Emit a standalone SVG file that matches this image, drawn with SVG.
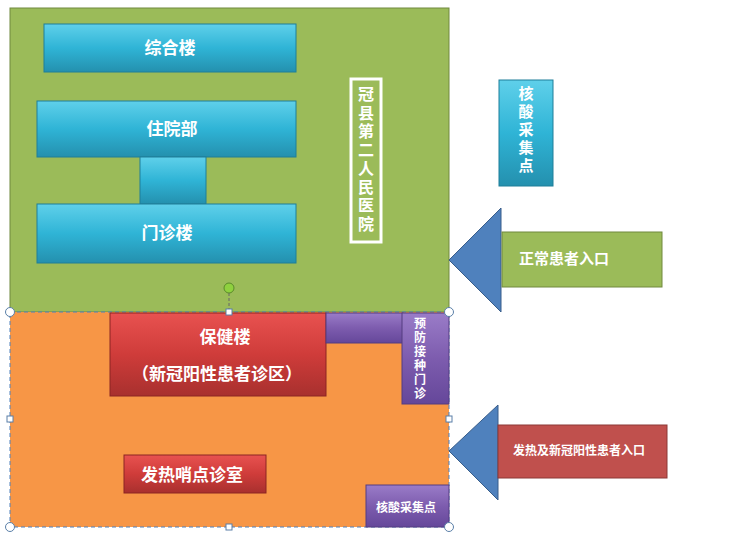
<svg xmlns="http://www.w3.org/2000/svg" width="748" height="539" viewBox="0 0 748 539">
<defs>
<linearGradient id="gb" x1="0" y1="0" x2="0" y2="1"><stop offset="0" stop-color="#5fd0ea"/><stop offset="0.5" stop-color="#2fb4d6"/><stop offset="1" stop-color="#2490ae"/></linearGradient>
<linearGradient id="gr" x1="0" y1="0" x2="0" y2="1"><stop offset="0" stop-color="#e85250"/><stop offset="0.5" stop-color="#cf3c3a"/><stop offset="1" stop-color="#a8302e"/></linearGradient>
<linearGradient id="gp" x1="0" y1="0" x2="0" y2="1"><stop offset="0" stop-color="#9a7cc8"/><stop offset="0.5" stop-color="#7d5cae"/><stop offset="1" stop-color="#65479a"/></linearGradient>
</defs>
<style>
text{font-family:"Noto Sans CJK SC",sans-serif;font-weight:bold;fill:#fff;text-anchor:middle}
.b{fill:url(#gb);stroke:#1f7f99;stroke-width:1}
.r{fill:url(#gr);stroke:#8c2422;stroke-width:1}
.p{fill:url(#gp);stroke:#553c80;stroke-width:1}
.h{fill:#fff;stroke:#5a7fa8;stroke-width:1}
</style>
<rect width="748" height="539" fill="#fff"/>
<g id="green-zone"><rect x="10" y="8" width="439" height="304" fill="#9bbb59" stroke="#71893f" stroke-width="1"/></g>
<g id="orange-zone"><rect x="10" y="312" width="439" height="215" fill="#f79646" stroke="#4f81bd" stroke-width="1" stroke-dasharray="4 3"/></g>
<g id="zonghe"><rect class="b" x="44" y="24" width="252" height="48"/><text x="170" y="54" font-size="17">综合楼</text></g>
<g id="zhuyuan"><rect class="b" x="37" y="101" width="259" height="56"/><text x="172" y="135" font-size="17">住院部</text></g>
<g id="link"><rect class="b" x="140" y="157" width="66" height="47"/></g>
<g id="menzhen"><rect class="b" x="37" y="204" width="259" height="59"/><text x="167" y="239" font-size="17">门诊楼</text></g>
<g id="hospital-name"><rect x="351" y="79" width="30" height="163" fill="#9bbb59" stroke="#fff" stroke-width="3"/>
<text font-size="16"><tspan x="366" y="100">冠</tspan><tspan x="366" y="118.5">县</tspan><tspan x="366" y="137">第</tspan><tspan x="366" y="155.5">二</tspan><tspan x="366" y="174">人</tspan><tspan x="366" y="192.5">民</tspan><tspan x="366" y="211">医</tspan><tspan x="366" y="229.5">院</tspan></text></g>
<g id="hesuan1"><rect class="b" x="499" y="80" width="54" height="106"/>
<text font-size="15"><tspan x="526" y="99">核</tspan><tspan x="526" y="117">酸</tspan><tspan x="526" y="135">采</tspan><tspan x="526" y="153">集</tspan><tspan x="526" y="171">点</tspan></text></g>
<g id="normal-entry"><polygon points="449,260 501,208 501,312" fill="#4f81bd" stroke="#385d8a"/><rect x="502" y="232" width="160" height="55" fill="#9bbb59" stroke="#71893f"/><text x="564" y="264" font-size="15">正常患者入口</text></g>
<g id="baojian"><rect class="r" x="110" y="313" width="216" height="83"/><text x="225" y="343" font-size="17">保健楼</text><text x="217" y="380" font-size="17">（新冠阳性患者诊区）</text></g>
<g id="purple-link"><rect class="p" x="326" y="313" width="77" height="30"/></g>
<g id="yufang"><rect class="p" x="402" y="313" width="47" height="91"/>
<text font-size="12"><tspan x="420" y="328">预</tspan><tspan x="420" y="342">防</tspan><tspan x="420" y="356">接</tspan><tspan x="420" y="370">种</tspan><tspan x="420" y="384">门</tspan><tspan x="420" y="398">诊</tspan></text></g>
<g id="fare"><rect class="r" x="124" y="455" width="142" height="38"/><text x="192" y="481" font-size="17">发热哨点诊室</text></g>
<g id="hesuan2"><rect class="p" x="366" y="485" width="83" height="42"/><text x="406" y="512" font-size="12">核酸采集点</text></g>
<g id="fever-entry"><polygon points="449,451 498,405 498,500" fill="#4f81bd" stroke="#385d8a"/><rect x="498" y="425" width="169" height="53" fill="#c0504d" stroke="#8c3836"/><text x="579" y="455" font-size="12">发热及新冠阳性患者入口</text></g>
<g id="connectors"><line x1="229" y1="293" x2="229" y2="312" stroke="#666" stroke-dasharray="3 2"/></g>
<g id="handles">
<circle cx="229" cy="288" r="5" fill="#8fd13f" stroke="#5a8a2a"/>
<circle class="h" cx="10" cy="312" r="4.5"/><circle class="h" cx="449" cy="312" r="4.5"/><circle class="h" cx="10" cy="527" r="4.5"/><circle class="h" cx="449" cy="527" r="4.5"/>
<rect class="h" x="226" y="309" width="6" height="6"/><rect class="h" x="7" y="416" width="6" height="6"/><rect class="h" x="446" y="416" width="6" height="6"/><rect class="h" x="226" y="524" width="6" height="6"/>
</g>
</svg>
